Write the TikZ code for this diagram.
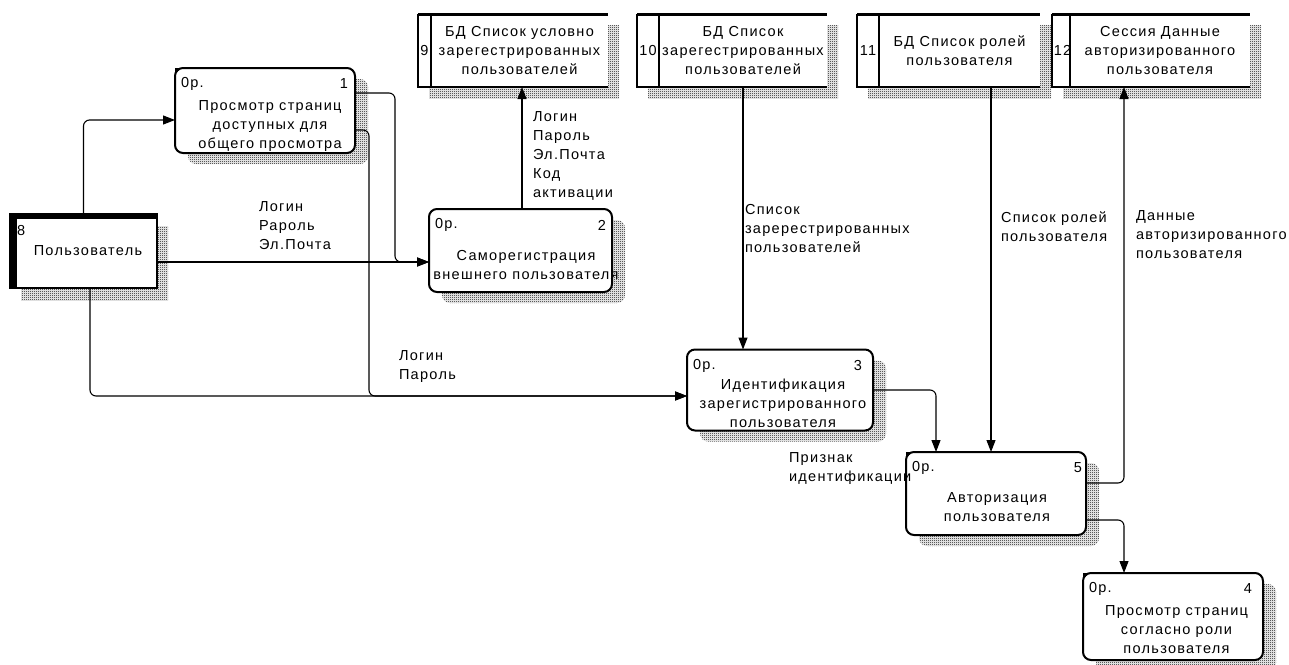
\documentclass[tikz,border=0pt]{standalone}
\usepackage{fontspec}
\setmainfont{Liberation Sans}[LetterSpace=9]
\usetikzlibrary{arrows.meta,patterns,calc,backgrounds}
% fine 1pt checkerboard used for the drop shadows
\pgfdeclarepatternformonly{finecheck}{\pgfpointorigin}{\pgfpoint{2pt}{2pt}}{\pgfpoint{2pt}{2pt}}{%
  \pgfpathrectangle{\pgfpointorigin}{\pgfpoint{1pt}{1pt}}%
  \pgfpathrectangle{\pgfpoint{1pt}{1pt}}{\pgfpoint{1pt}{1pt}}%
  \pgfusepath{fill}}
\begin{document}
\begin{tikzpicture}[x=1pt,y=-1pt,
  font=\fontsize{14.5}{19}\selectfont,
  every node/.style={inner sep=0pt,outer sep=0pt},
  proc/.style={draw,line width=2pt,rounded corners=8pt,fill=white},
  ptext/.style={align=center},
  store/.style={fill=white,minimum height=73pt,align=center},
  storeid/.style={fill=white,minimum height=73pt},
  flowlabel/.style={align=left,anchor=north west},
  flow/.style={line width=1.1pt,rounded corners=6pt,-{Triangle[length=12pt,width=9pt]}},
  shade/.style={pattern=finecheck,pattern color=black},
]
\useasboundingbox (0,0) rectangle (1289,664);

% ---------- external entity ----------
\node[draw,line width=2pt,fill=white,minimum width=147pt,minimum height=74pt] (e8) at (83.5,251) {};
\fill (e8.south west) rectangle ($(e8.north west)+(7,0)$);
\fill (e8.north west) rectangle ($(e8.north east)+(0,5)$);
\node[anchor=west] (e8n) at (17,231) {8};
\node (e8t) at (88,251) {Пользователь};

% ---------- processes ----------
\node[proc,minimum width=180pt,minimum height=85pt] (p1) at (265,110.5) {};
\node[proc,minimum width=183pt,minimum height=83pt] (p2) at (520.5,250.5) {};
\node[proc,minimum width=186pt,minimum height=81pt] (p3) at (780,390) {};
\node[proc,minimum width=180pt,minimum height=83pt] (p5) at (996,493.5) {};
\node[proc,minimum width=180pt,minimum height=87pt] (p4) at (1173,616.5) {};

\node[ptext] (p1t) at ($(p1.center)+(5,15.5)$) {Просмотр страниц\\доступных для\\общего просмотра};
\node[ptext] (p2t) at ($(p2.center)+(5.5,14.5)$) {Саморегистрация\\внешнего пользователя};
\node[ptext] (p3t) at ($(p3.center)+(3,13.5)$) {Идентификация\\зарегистрированного\\пользователя};
\node[ptext] (p5t) at ($(p5.center)+(1,13.5)$) {Авторизация\\пользователя};
\node[ptext] (p4t) at ($(p4.center)+(3.5,13)$) {Просмотр страниц\\согласно роли\\пользователя};

\foreach \p/\n/\r in {p1/1/7,p2/2/6,p3/3/11,p5/5/4,p4/4/11} {
  \node[anchor=west] (\p o) at ($(\p.north west)+(6,16)$) {0р.};
  \node[anchor=east] (\p n) at ($(\p.north east)+(-\r,16)$) {\n};
}
% corner marks
\foreach \p in {p1,p5,p4}
  \fill (\p.north west) -- ++(6,0) -- ++(-6,6) -- cycle;

% ---------- data stores ----------
\node[store,minimum width=177pt] (s9) at (519.5,50.5) {БД Список условно\\зарегестрированных\\пользователей};
\node[storeid,minimum width=13pt] (id9) at (424.5,50.5) {9};
\node[store,minimum width=168pt] (s10) at (743,50.5) {БД Список\\зарегестрированных\\пользователей};
\node[storeid,minimum width=22pt] (id10) at (648,50.5) {10};
\node[store,minimum width=161pt] (s11) at (959.5,50.5) {БД Список ролей\\пользователя};
\node[storeid,minimum width=22pt] (id11) at (868,50.5) {11};
\node[store,minimum width=180pt] (s12) at (1160,50.5) {Сессия Данные\\авторизированного\\пользователя};
\node[storeid,minimum width=21pt] (id12) at (1062.5,50.5) {12};

\foreach \k in {9,10,11,12} {
  \draw[line width=2pt] (id\k.north west) -- (id\k.south west) -- (s\k.south east);
  \draw[line width=2pt] (s\k.north west) -- (s\k.south west);
  \draw[line width=3pt] (id\k.north west) -- (s\k.north east);
}

% ---------- shadows ----------
\begin{scope}[on background layer]
  \foreach \p in {p1,p2,p3,p5,p4}
    \fill[shade,rounded corners=8pt] ($(\p.north west)+(13,11)$) rectangle ($(\p.south east)+(13,11)$);
  \fill[shade] ($(e8.north west)+(11,12)$) rectangle ($(e8.south east)+(11,12)$);
  \foreach \k in {9,10,11,12}
    \fill[shade] ($(id\k.north west)+(11,11)$) rectangle ($(s\k.south east)+(11,11)$);
\end{scope}

% ---------- routing helpers ----------
\coordinate (yA) at (0,120);
\coordinate (yB) at (0,262);
\coordinate (xB) at (395,0);
\coordinate (yB1) at (0,93);
\coordinate (yC1) at (0,130);
\coordinate (xC) at (369,0);
\coordinate (yC) at (0,396);
\coordinate (xD) at (90,0);
\coordinate (xH) at (522,0);
\coordinate (yE) at (0,390);
\coordinate (xE) at (936,0);
\coordinate (xF) at (991,0);
\coordinate (xG) at (1124,0);
\coordinate (yG1) at (0,483);
\coordinate (yG2) at (0,520);

% ---------- flows ----------
\draw[flow] (e8.north) |- (p1.west |- yA);
\draw[flow] (e8.east |- yB) -- (p2.west |- yB);
\draw[flow] (p1.east |- yB1) -| (xB |- yB) -- (p2.west |- yB);
\draw[flow] (p1.east |- yC1) -| (xC |- yC) -- (p3.west |- yC);
\draw[flow] (e8.south -| xD) |- (p3.west |- yC);
\draw[flow] (p2.north -| xH) -- (s9.south -| xH);
\draw[flow] (s10.south) -- (p3.north -| s10.south);
\draw[flow] (p3.east |- yE) -| (p5.north -| xE);
\draw[flow] (s11.south -| xF) -- (p5.north -| xF);
\draw[flow] (p5.east |- yG1) -| (s12.south -| xG);
\draw[flow] (p5.east |- yG2) -| (p4.north -| xG);

% ---------- flow labels ----------
\node[flowlabel] (l1) at (259,201.5) {Логин\\Рароль\\Эл.Почта};
\node[flowlabel] (l2) at (533,111.5) {Логин\\Пароль\\Эл.Почта\\Код\\активации};
\node[flowlabel] (l3) at (399,350.5) {Логин\\Пароль};
\node[flowlabel] (l4) at (745,204.5) {Список\\заререстрированных\\пользователей};
\node[flowlabel] (l5) at (1001,211.5) {Список ролей\\пользователя};
\node[flowlabel] (l6) at (1136,210.5) {Данные\\авторизированного\\пользователя};
\node[flowlabel] (l7) at (789,452.5) {Признак\\идентификации};
\end{tikzpicture}
\end{document}
